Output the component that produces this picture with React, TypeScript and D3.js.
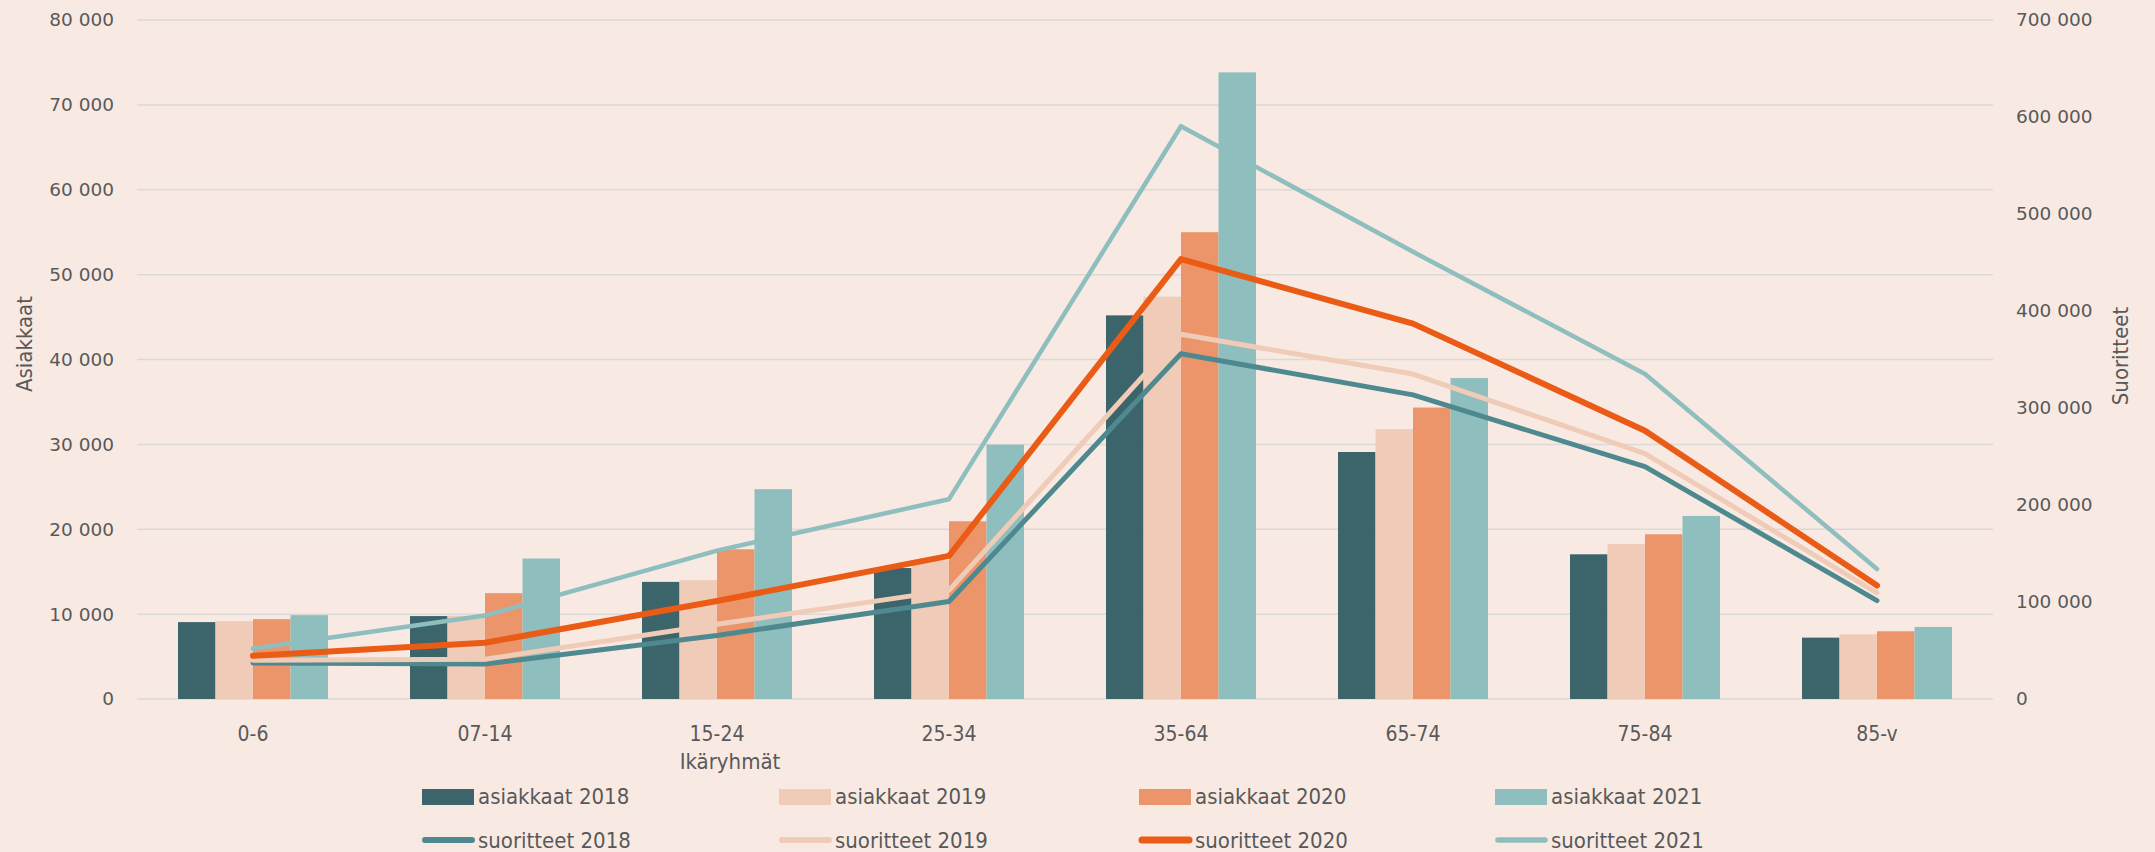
import * as d3 from "d3";

const categories = ["0-6", "07-14", "15-24", "25-34", "35-64", "65-74", "75-84", "85-v"];
const years = ["2018", "2019", "2020", "2021"];

// asiakkaat (left axis, bars)
const asiakkaat2018 = [9060, 9770, 13800, 15430, 45200, 29100, 17050, 7230];
const asiakkaat2019 = [9180, 9800, 14000, 16340, 47400, 31800, 18270, 7620];
const asiakkaat2020 = [9410, 12470, 17640, 20940, 55000, 34340, 19410, 7980];
const asiakkaat2021 = [9880, 16550, 24720, 29960, 73830, 37810, 21570, 8490];

// suoritteet (right axis, lines)
const suoritteet2018 = [37000, 36000, 65500, 100500, 356000, 313500, 239500, 101500];
const suoritteet2019 = [40000, 41000, 77000, 112000, 376000, 335000, 253000, 109500];
const suoritteet2020 = [44500, 58000, 101000, 147500, 453500, 387000, 276500, 117000];
const suoritteet2021 = [52000, 86000, 153000, 206000, 590500, 461000, 335000, 134000];

const leftTicks = [0, 10000, 20000, 30000, 40000, 50000, 60000, 70000, 80000];
const rightTicks = [0, 100000, 200000, 300000, 400000, 500000, 600000, 700000];

const barColors = ["#3B646B", "#EFCBB8", "#ED956A", "#8EBEBD"];
const lineColors = ["#4E8990", "#EFCBB8", "#EA5B16", "#8EBEBD"];
const lineWidths = [5, 5, 6, 4.5];

const W = 2155;
const H = 852;
const plot = { left: 137, right: 1993, top: 20, bottom: 699 };

const fmt = d3
  .formatLocale({ decimal: ",", thousands: "\u00a0", grouping: [3], currency: ["", ""] })
  .format(",d");

const App = () => {
  const bars = [asiakkaat2018, asiakkaat2019, asiakkaat2020, asiakkaat2021];
  const lines = [suoritteet2018, suoritteet2019, suoritteet2020, suoritteet2021];

  const x0 = d3.scaleBand().domain(categories).range([plot.left, plot.right]);
  const x1 = d3.scaleBand().domain(years).range([-75, 75]);
  const yL = d3.scaleLinear().domain([0, 80000]).range([plot.bottom, plot.top]);
  const yR = d3.scaleLinear().domain([0, 700000]).range([plot.bottom, plot.top]);

  const cx = (c) => x0(c) + x0.bandwidth() / 2;
  const line = d3
    .line()
    .x((d, i) => cx(categories[i]))
    .y((d) => yR(d));

  const textColor = "#595959";
  const tickFont = "'DejaVu Sans', sans-serif";
  const narrowFont = "'Liberation Sans Narrow', 'DejaVu Sans Condensed', 'Roboto', sans-serif";

  const legendX = [422, 779, 1139, 1495];

  return (
    <svg
      width={W}
      height={H}
      style={{ position: "absolute", left: 0, top: 0, display: "block", background: "#F8EAE3" }}
    >
      <rect x={0} y={0} width={W} height={H} fill="#F8EAE3" />

      {/* gridlines */}
      {leftTicks.map((t) => (
        <line
          key={t}
          x1={plot.left}
          x2={plot.right}
          y1={yL(t)}
          y2={yL(t)}
          stroke="#DAD9D8"
          strokeWidth={1.5}
        />
      ))}

      {/* left ticks */}
      {leftTicks.map((t) => (
        <text
          key={t}
          x={114}
          y={yL(t)}
          dy="0.35em"
          textAnchor="end"
          fontFamily={tickFont}
          fontSize={18.5}
          fill={textColor}
        >
          {fmt(t)}
        </text>
      ))}

      {/* right ticks */}
      {rightTicks.map((t) => (
        <text
          key={t}
          x={2016}
          y={yR(t)}
          dy="0.35em"
          textAnchor="start"
          fontFamily={tickFont}
          fontSize={18.5}
          fill={textColor}
        >
          {fmt(t)}
        </text>
      ))}

      {/* bars */}
      {bars.map((series, si) =>
        series.map((v, i) => (
          <rect
            key={si + "-" + i}
            x={cx(categories[i]) + x1(years[si])}
            y={yL(v)}
            width={x1.bandwidth()}
            height={plot.bottom - yL(v)}
            fill={barColors[si]}
          />
        ))
      )}

      {/* lines */}
      {lines.map((series, si) => (
        <path
          key={si}
          d={line(series)}
          fill="none"
          stroke={lineColors[si]}
          strokeWidth={lineWidths[si]}
          strokeLinecap="round"
          strokeLinejoin="round"
        />
      ))}

      {/* category labels */}
      {categories.map((c) => (
        <text
          key={c}
          x={cx(c)}
          y={741}
          textAnchor="middle"
          fontFamily={narrowFont}
          fontSize={21}
          fill={textColor}
        >
          {c}
        </text>
      ))}

      {/* axis titles */}
      <text x={730} y={769} textAnchor="middle" fontFamily={narrowFont} fontSize={22} fill={textColor}>
        Ikäryhmät
      </text>
      <text
        transform={`translate(32, 344) rotate(-90)`}
        textAnchor="middle"
        fontFamily={narrowFont}
        fontSize={22}
        fill={textColor}
      >
        Asiakkaat
      </text>
      <text
        transform={`translate(2128, 356) rotate(-90)`}
        textAnchor="middle"
        fontFamily={narrowFont}
        fontSize={22}
        fill={textColor}
      >
        Suoritteet
      </text>

      {/* legend */}
      {years.map((yr, i) => (
        <g key={"a" + yr}>
          <rect x={legendX[i]} y={789} width={52} height={16} fill={barColors[i]} />
          <text x={legendX[i] + 56} y={804} fontFamily={narrowFont} fontSize={22} fill={textColor}>
            {"asiakkaat  " + yr}
          </text>
        </g>
      ))}
      {years.map((yr, i) => (
        <g key={"s" + yr}>
          <line
            x1={legendX[i] + 3}
            x2={legendX[i] + 50}
            y1={840}
            y2={840}
            stroke={lineColors[i]}
            strokeWidth={lineWidths[i] + 1}
            strokeLinecap="round"
          />
          <text x={legendX[i] + 56} y={848} fontFamily={narrowFont} fontSize={22} fill={textColor}>
            {"suoritteet " + yr}
          </text>
        </g>
      ))}
    </svg>
  );
};

export default App;
